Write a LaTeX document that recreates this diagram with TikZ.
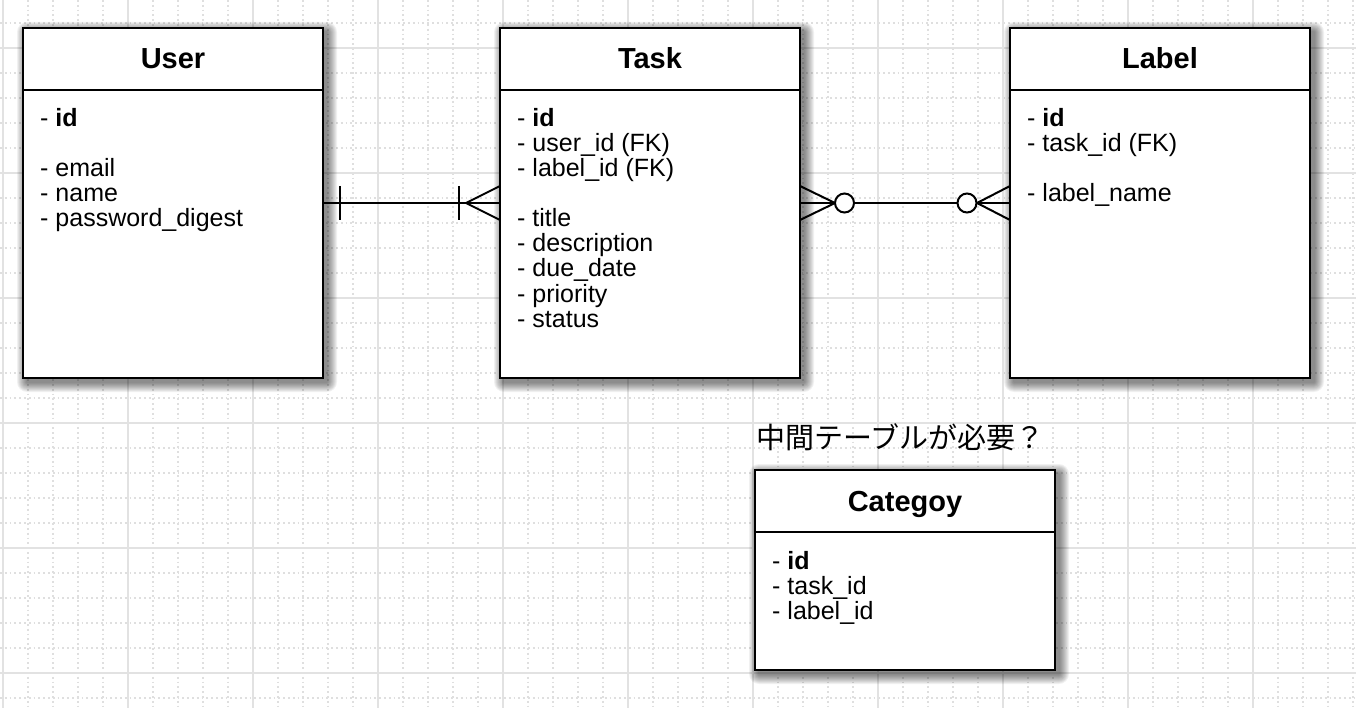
\documentclass[tikz,border=0pt]{standalone}
\usepackage{fontspec}
\setmainfont{Liberation Sans}
\newfontfamily\jpfont{Noto Sans CJK JP}
\definecolor{gridmaj}{HTML}{E2E2E2}
\definecolor{gridmin}{HTML}{DFDFDF}
\newcommand\softshadow[4]{%
  \foreach \r in {10,9,...,1}
    \fill[black, fill opacity=0.055, rounded corners=\r pt]
      (#1+4-\r,#2+4-\r) rectangle (#3+4+\r,#4+4+\r);}
\begin{document}
\begin{tikzpicture}[x=1pt,y=-1pt,
  tablebox/.style={draw=black, line width=2.6pt, fill=white, minimum width=300pt,
    anchor=north west, inner sep=0pt, outer sep=0pt},
  hdrline/.style={line width=2.6pt},
  hdr/.style={font=\fontsize{29}{29}\selectfont\bfseries, inner sep=0pt, anchor=base},
  row/.style={font=\fontsize{25}{25}\selectfont, inner sep=0pt, anchor=base west},
  rel/.style={line width=2pt},
  ring/.style={circle, draw=black, fill=white, line width=2pt, inner sep=0pt, outer sep=0pt, minimum size=19pt},
  minorgrid/.style={gridmin, line width=1.6pt, dash pattern=on 1.8pt off 3pt},
  majorgrid/.style={gridmaj, line width=2pt}]
\useasboundingbox (0,0) rectangle (1356,708);
\fill[white] (0,0) rectangle (1356,708);
\begin{scope}
\clip (0,0) rectangle (1356,708);
\foreach \x in {3,28,...,1353} \draw[minorgrid] (\x,0) -- (\x,708);
\foreach \y in {23,48,...,698} \draw[minorgrid] (0,\y) -- (1356,\y);
\foreach \x in {3,128,...,1253} \draw[majorgrid] (\x,0) -- (\x,708);
\foreach \y in {48,173,...,673} \draw[majorgrid] (0,\y) -- (1356,\y);
\end{scope}

% shadows
\softshadow{23}{28}{323}{378}
\softshadow{500}{28}{800}{378}
\softshadow{1010}{28}{1310}{378}
\softshadow{755}{470}{1055}{670}

% tables
\node[tablebox, minimum height=350pt] (user) at (23,28) {};
\node[tablebox, minimum height=350pt] (task) at (500,28) {};
\node[tablebox, minimum height=350pt] (label) at (1010,28) {};
\node[tablebox, minimum height=200pt] (cat) at (755,470) {};

\foreach \t in {user,task,label,cat}
  \draw[hdrline] ([yshift=-62pt]\t.north west) -- ([yshift=-62pt]\t.north east);

\node[hdr] (userh) at (173,69) {User};
\node[hdr] (taskh) at (650,69) {Task};
\node[hdr] (labelh) at (1160,69) {Label};
\node[hdr] (cath) at (905,511) {Categoy};

% User rows
\node[row] (u1) at (40,127) {- \textbf{id}};
\node[row] (u2) at (40,177) {- email};
\node[row] (u3) at (40,202) {- name};
\node[row] (u4) at (40,227) {- password\_digest};
% Task rows
\node[row] (t1) at (517,127) {- \textbf{id}};
\node[row] (t2) at (517,152) {- user\_id (FK)};
\node[row] (t3) at (517,177) {- label\_id (FK)};
\node[row] (t4) at (517,227) {- title};
\node[row] (t5) at (517,252) {- description};
\node[row] (t6) at (517,277) {- due\_date};
\node[row] (t7) at (517,302) {- priority};
\node[row] (t8) at (517,327) {- status};
% Label rows
\node[row] (l1) at (1027,127) {- \textbf{id}};
\node[row] (l2) at (1027,152) {- task\_id (FK)};
\node[row] (l3) at (1027,202) {- label\_name};
% Category rows
\node[row] (c1) at (772,569) {- \textbf{id}};
\node[row] (c2) at (772,594) {- task\_id};
\node[row] (c3) at (772,619) {- label\_id};

% note
\node[font=\jpfont\fontsize{29}{29}\selectfont, anchor=west, inner sep=0pt] (note) at (756,437) {中間テーブルが必要？};

% User -- Task : one and only one  to  one or many
\draw[rel] (user.east) -- (task.west);
\draw[rel] ([xshift=17pt,yshift=17pt]user.east) -- ([xshift=17pt,yshift=-17pt]user.east);
\draw[rel] ([xshift=-41pt,yshift=17pt]task.west) -- ([xshift=-41pt,yshift=-17pt]task.west);
\draw[rel] ([yshift=17pt]task.west) -- ([xshift=-34pt]task.west) -- ([yshift=-17pt]task.west);

% Task -- Label : zero or many on both sides
\draw[rel] (task.east) -- (label.west);
\draw[rel] ([yshift=17pt]task.east) -- ([xshift=35pt]task.east) -- ([yshift=-17pt]task.east);
\draw[rel] ([yshift=17pt]label.west) -- ([xshift=-33pt]label.west) -- ([yshift=-17pt]label.west);
\node[ring] (r1) at ([xshift=44.5pt]task.east) {};
\node[ring] (r2) at ([xshift=-43pt]label.west) {};
\end{tikzpicture}
\end{document}
